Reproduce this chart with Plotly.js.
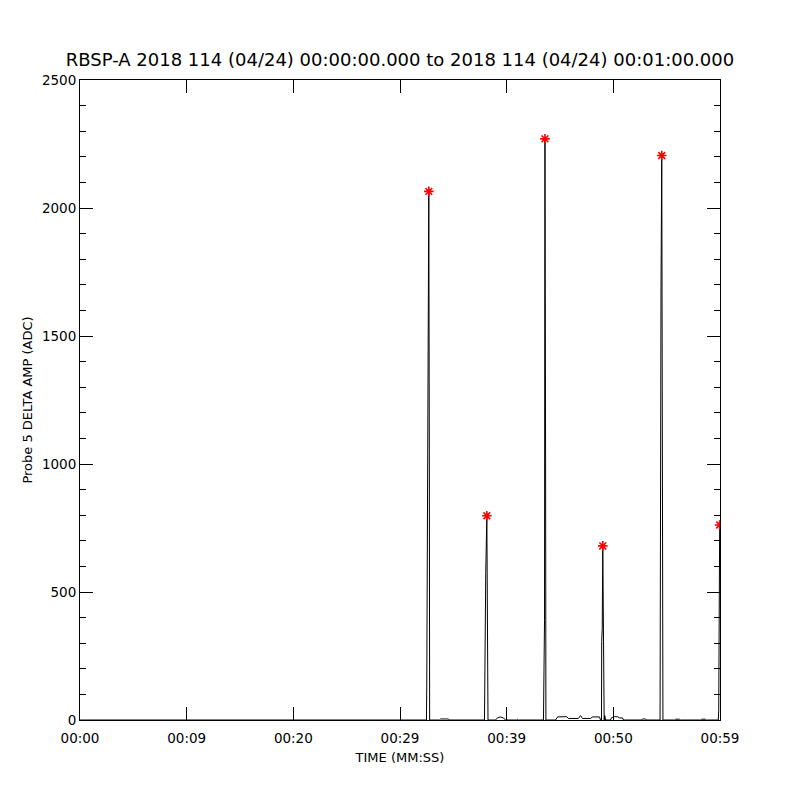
<!DOCTYPE html>
<html>
<head>
<meta charset="utf-8">
<script src="https://cdn.plot.ly/plotly-3.0.1.min.js"></script>
<style>html,body{margin:0;padding:0;background:#fff;}#chart{width:800px;height:800px;}</style>
</head>
<body>
<div id="chart"></div>
<script>
// Time in seconds from 00:00:00, amplitude in ADC counts
const timeSec = [
  0, 32.48, 32.51, 32.58, 32.63, 32.70, 32.75, 32.78,
  33.70, 33.80, 34.55, 34.64,
  37.92, 37.95, 38.04, 38.14, 38.20, 38.25,
  38.95, 39.14, 39.42, 39.70, 39.89,
  40.92, 41.00, 41.10,
  43.45, 43.48, 43.55, 43.57, 43.59, 43.65, 43.68,
  44.58, 44.77, 45.61, 45.80, 46.73, 46.92, 47.11, 47.86, 48.05, 48.70, 48.80,
  48.89, 48.91, 48.96, 49.01, 49.08, 49.14, 49.20, 49.27,
  49.73, 49.83, 50.11, 50.39, 50.58, 50.86, 50.95,
  52.64, 52.73, 53.02, 53.11,
  54.38, 54.42, 54.47, 54.54, 54.61, 54.65,
  55.73, 55.83, 56.20, 56.30,
  58.17, 58.27, 58.64, 58.73,
  59.84, 59.88, 59.97
];
const ampADC = [
  0, 0, 137, 697, 1165, 2065, 1000, 0,
  0, 4, 4, 0,
  0, 181, 577, 798, 63, 0,
  0, 8, 12, 8, 0,
  0, 3, 0,
  0, 315, 390, 1520, 2270, 1000, 0,
  0, 12, 13, 6, 6, 17, 6, 6, 12, 12, 0,
  0, 306, 358, 680, 358, 0, 17, 0,
  0, 9, 13, 13, 8, 8, 0,
  0, 4, 4, 0,
  0, 1265, 1690, 2205, 800, 0,
  0, 3, 3, 0,
  0, 3, 3, 0,
  0, 36, 762
];
const peakTimes = [32.70, 38.14, 43.59, 49.01, 54.54, 59.97];
const peakValues = [2065, 798, 2270, 680, 2205, 762];
const xTickVals = [0, 10, 20, 30, 40, 50, 60];
const xTickText = ['00:00', '00:09', '00:20', '00:29', '00:39', '00:50', '00:59'];
const yTickVals = [0, 500, 1000, 1500, 2000, 2500];

const font = 'DejaVu Sans, Liberation Sans, sans-serif';
const traces = [
  {x: timeSec, y: ampADC, type: 'scatter', mode: 'lines',
   line: {color: '#000', width: 1}, hoverinfo: 'skip'},
  {x: peakTimes, y: peakValues, type: 'scatter', mode: 'markers',
   marker: {symbol: 'asterisk-open', size: 8, color: '#ff0000', line: {color: '#ff0000', width: 1.6}},
   cliponaxis: true}
];
const layout = {
  width: 800, height: 800,
  margin: {l: 80, r: 80, t: 80, b: 80, pad: 0},
  paper_bgcolor: '#fff', plot_bgcolor: '#fff',
  showlegend: false,
  font: {family: font, color: '#000', size: 13},
  title: {text: 'RBSP-A 2018 114 (04/24) 00:00:00.000 to 2018 114 (04/24) 00:01:00.000',
          x: 0.5, xanchor: 'center', y: 1 - 60/800, yanchor: 'middle',
          font: {family: font, size: 18, color: '#000'}},
  xaxis: {range: [0, 60], tickmode: 'array', tickvals: xTickVals, ticktext: xTickText,
          ticks: 'inside', ticklen: 13, tickcolor: '#000', tickwidth: 1,
          showline: true, linecolor: '#000', linewidth: 1, mirror: 'allticks',
          showgrid: false, zeroline: false, ticklabelstandoff: 6,
          tickfont: {family: font, size: 13.5},
          title: {text: 'TIME (MM:SS)', font: {family: font, size: 13}, standoff: 7}},
  yaxis: {range: [0, 2500], tickmode: 'array', tickvals: yTickVals,
          ticks: 'inside', ticklen: 13, tickcolor: '#000', tickwidth: 1,
          minor: {dtick: 100, ticks: 'inside', ticklen: 6, tickcolor: '#000', tickwidth: 1, showgrid: false},
          showline: true, linecolor: '#000', linewidth: 1, mirror: 'allticks',
          showgrid: false, zeroline: false,
          tickfont: {family: font, size: 13.5},
          title: {text: 'Probe 5 DELTA AMP (ADC)', font: {family: font, size: 13}, standoff: 6}}
};
Plotly.newPlot('chart', traces, layout, {displayModeBar: false, staticPlot: true});
</script>
</body>
</html>
